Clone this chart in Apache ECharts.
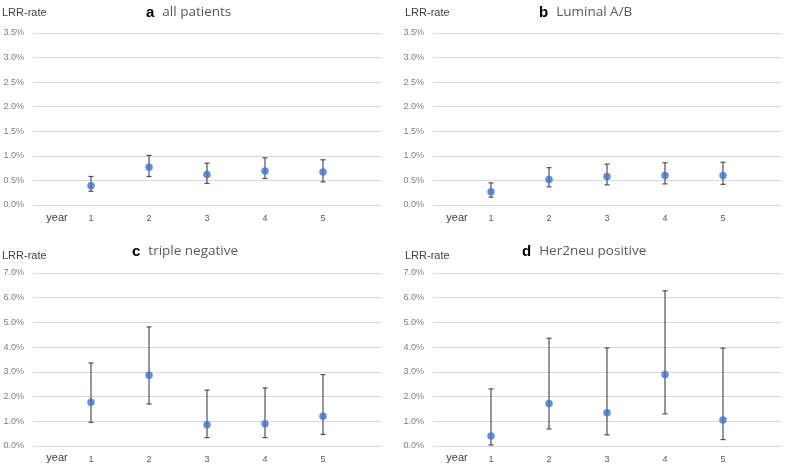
<!DOCTYPE html>
<html>
<head>
<meta charset="utf-8">
<script src="https://cdn.jsdelivr.net/npm/echarts@6/dist/echarts.min.js"></script>
<style>html,body{margin:0;padding:0;background:#fff;}#c{width:787px;height:467px;}</style>
</head>
<body>
<div id="c"></div>
<script>
const years = [1, 2, 3, 4, 5];
const xTickLabels = ['1', '2', '3', '4', '5'];
const panelLetters = ['a', 'b', 'c', 'd'];
const panelTitles = ['all patients', 'Luminal A/B', 'triple negative', 'Her2neu positive'];
const yMaxes = [3.5, 3.5, 7, 7];
const yIntervals = [0.5, 0.5, 1, 1];

const aMean = [0.39, 0.77, 0.62, 0.69, 0.67];
const aLow  = [0.28, 0.58, 0.44, 0.54, 0.47];
const aHigh = [0.58, 1.01, 0.85, 0.96, 0.92];

const bMean = [0.27, 0.52, 0.58, 0.60, 0.60];
const bLow  = [0.16, 0.37, 0.41, 0.43, 0.42];
const bHigh = [0.45, 0.76, 0.83, 0.86, 0.87];

const cMean = [1.77, 2.86, 0.86, 0.90, 1.20];
const cLow  = [0.96, 1.70, 0.34, 0.34, 0.47];
const cHigh = [3.36, 4.82, 2.26, 2.35, 2.89];

const dMean = [0.40, 1.72, 1.35, 2.89, 1.05];
const dLow  = [0.04, 0.69, 0.45, 1.30, 0.26];
const dHigh = [2.31, 4.36, 3.97, 6.28, 3.96];

const means = [aMean, bMean, cMean, dMean];
const lows = [aLow, bLow, cLow, dLow];
const highs = [aHigh, bHigh, cHigh, dHigh];

const grids = [
  {left: 33, top: 33, width: 348, height: 172},
  {left: 433, top: 33, width: 348, height: 172},
  {left: 33, top: 273, width: 348, height: 173},
  {left: 433, top: 273, width: 348, height: 173}
];
const titlePos = [
  {left: 146, top: 5}, {left: 539, top: 5}, {left: 132, top: 244}, {left: 522, top: 244}
];
const lrrPos = [[2, 7], [405, 7], [2, 250], [405, 250]];
const yearPos = [[57, 218], [457, 218], [57, 458], [457, 458]];

const font = '"Liberation Sans", Arial, sans-serif';
const option = {
  animation: false,
  backgroundColor: '#fff',
  grid: grids,
  title: panelLetters.map((l, i) => ({
    text: '{l|' + l + '}{t|' + panelTitles[i] + '}',
    left: titlePos[i].left, top: titlePos[i].top, padding: 0,
    textStyle: {rich: {
      l: {fontFamily: font, fontSize: 15, fontWeight: 'bold', color: '#000', padding: [0, 8, 0, 0]},
      t: {fontFamily: '"Open Sans", sans-serif', fontSize: 13.5, fontWeight: 'normal', color: '#595959'}
    }}
  })),
  xAxis: grids.map((g, i) => ({
    type: 'value', gridIndex: i, min: 0, max: 6, interval: 1,
    axisLine: {show: false}, axisTick: {show: false}, splitLine: {show: false},
    axisLabel: {
      margin: 9, fontFamily: font, fontSize: 9, color: '#595959',
      formatter: v => (v >= 1 && v <= 5) ? xTickLabels[v - 1] : ''
    }
  })),
  yAxis: grids.map((g, i) => ({
    type: 'value', gridIndex: i, min: 0, max: yMaxes[i], interval: yIntervals[i],
    axisLine: {show: false}, axisTick: {show: false},
    splitLine: {lineStyle: {color: '#d9d9d9', width: 1}},
    axisLabel: {margin: 9, fontFamily: font, fontSize: 9, color: '#7f7f7f',
      formatter: v => v.toFixed(1) + '%'}
  })),
  graphic: [].concat(
    lrrPos.map(p => ({type: 'text', left: p[0], top: p[1],
      style: {text: 'LRR-rate', font: '11px ' + font, fill: '#404040'}})),
    yearPos.map(p => ({type: 'text', x: p[0], y: p[1],
      style: {text: 'year', font: '11px ' + font, fill: '#404040', align: 'center', verticalAlign: 'middle'}}))
  ),
  series: [].concat(
    means.map((m, i) => ({
      type: 'custom', xAxisIndex: i, yAxisIndex: i, z: 2,
      data: years.map((y, k) => [y, lows[i][k], highs[i][k]]),
      renderItem: function (params, api) {
        const lo = api.coord([api.value(0), api.value(1)]);
        const hi = api.coord([api.value(0), api.value(2)]);
        const w = 2.5;
        const st = {stroke: '#505050', lineWidth: 1.2};
        return {type: 'group', children: [
          {type: 'line', shape: {x1: lo[0], y1: lo[1], x2: hi[0], y2: hi[1]}, style: st},
          {type: 'line', shape: {x1: lo[0] - w, y1: lo[1], x2: lo[0] + w, y2: lo[1]}, style: st},
          {type: 'line', shape: {x1: hi[0] - w, y1: hi[1], x2: hi[0] + w, y2: hi[1]}, style: st}
        ]};
      }
    })),
    means.map((m, i) => ({
      type: 'scatter', xAxisIndex: i, yAxisIndex: i, z: 5,
      symbol: 'circle', symbolSize: 7.5,
      itemStyle: {color: '#4472C4'},
      data: years.map((y, k) => [y, m[k]])
    }))
  )
};
const chart = echarts.init(document.getElementById('c'), null, {renderer: 'canvas'});
chart.setOption(option);
</script>
</body>
</html>
